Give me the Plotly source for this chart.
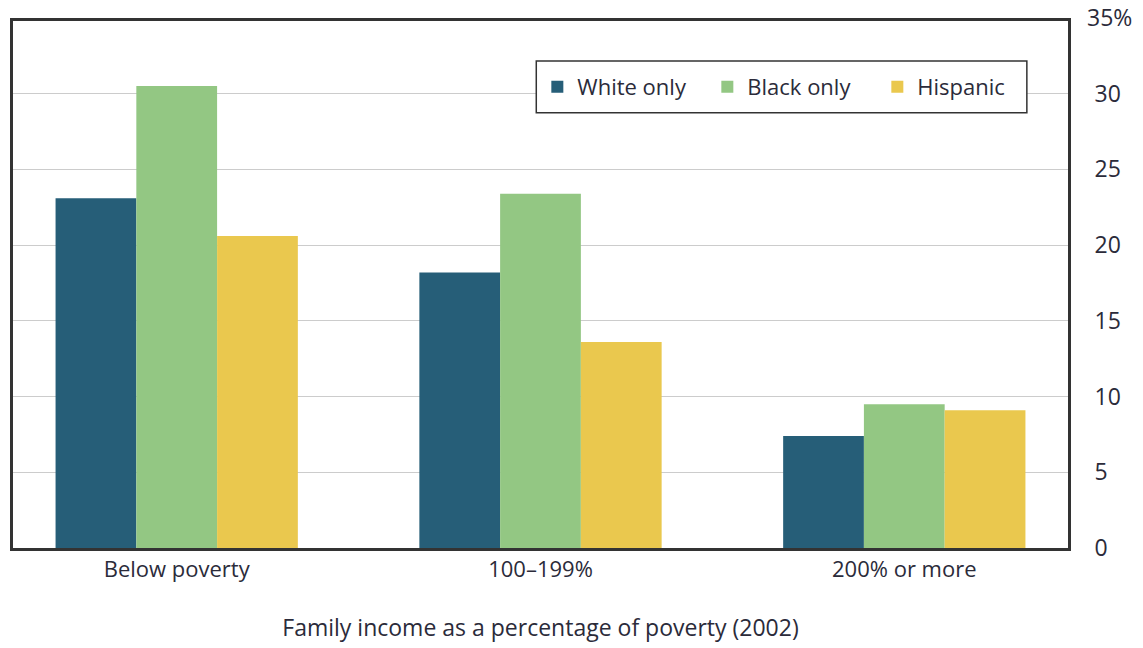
import plotly.graph_objects as go

categories = ["Below poverty", "100–199%", "200% or more"]
white_only = [23.1, 18.2, 7.4]
black_only = [30.5, 23.4, 9.5]
hispanic = [20.6, 13.6, 9.1]
y_ticks = [0, 5, 10, 15, 20, 25, 30]
y_tick_labels = ["0", "5", "10", "15", "20", "25", "30"]
top_label = "35%"

FONT = "Open Sans"
TXT = "#2b2b3a"

fig = go.Figure()
fig.add_trace(go.Bar(name="White only", x=categories, y=white_only, marker_color="#265E78", marker_line_width=0))
fig.add_trace(go.Bar(name="Black only", x=categories, y=black_only, marker_color="#93C783", marker_line_width=0))
fig.add_trace(go.Bar(name="Hispanic", x=categories, y=hispanic, marker_color="#EAC84E", marker_line_width=0))

fig.update_layout(
    width=1143, height=648,
    margin=dict(l=10, r=75, t=21, b=98),
    paper_bgcolor="white", plot_bgcolor="white",
    barmode="group", bargap=0.334, bargroupgap=0,
    font=dict(family=FONT, size=20, color=TXT),
    legend=dict(
        orientation="h", x=0.497, y=0.875, xanchor="left", yanchor="middle",
        borderwidth=0, bgcolor="rgba(0,0,0,0)",
        font=dict(size=22, color=TXT), itemwidth=30, entrywidth=125,
    ),
    shapes=[dict(
        type="rect", xref="paper", yref="paper",
        x0=0.496, x1=0.961, y0=0.826, y1=0.924,
        line=dict(color="#333333", width=1.5), fillcolor="white", layer="above",
    )],
    xaxis=dict(
        range=[-0.45, 2.45], showline=True, mirror=True, linecolor="#333333", linewidth=3,
        ticks="", tickfont=dict(size=22, color=TXT),
        title=dict(text="Family income as a percentage of poverty (2002)", font=dict(size=23, color=TXT), standoff=38),
    ),
    yaxis=dict(
        range=[0, 34.8], side="right", showline=True, mirror=True, linecolor="#333333", linewidth=3,
        tickvals=y_ticks, ticktext=y_tick_labels, ticks="", ticklabelstandoff=19,
        showgrid=True, gridcolor="#cccccc", gridwidth=1, zeroline=False,
        tickfont=dict(size=23, color=TXT),
    ),
    annotations=[dict(
        text=top_label, x=1, xref="paper", xanchor="left", xshift=17,
        y=1, yref="paper", yanchor="middle", yshift=4, showarrow=False,
        font=dict(size=23, color=TXT),
    )],
)
fig.write_html("out.html")
